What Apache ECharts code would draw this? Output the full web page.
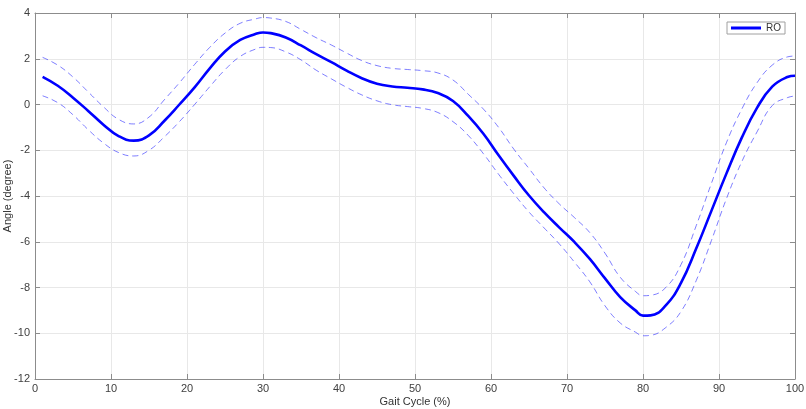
<!DOCTYPE html>
<html>
<head>
<meta charset="utf-8">
<script src="https://cdn.jsdelivr.net/npm/echarts@6/dist/echarts.min.js"></script>
<style>
html,body{margin:0;padding:0;background:#fff;}
#chart{width:806px;height:409px;}
</style>
</head>
<body>
<div id="chart"></div>
<script>
var gaitX = [1,3,5,7,9,11,13,15,17,19,21,23,25,27,29,30,31,33,35,37,39,41,43,45,47,49,51,53,55,57,59,61,63,65,67,69,71,73,75,77,79,80,81,83,85,87,89,91,93,95,97,99,100];
var meanRO = [1.21,0.82,0.30,-0.28,-0.88,-1.38,-1.58,-1.35,-0.72,0.0,0.75,1.58,2.32,2.82,3.08,3.15,3.12,2.93,2.58,2.2,1.85,1.48,1.15,0.91,0.79,0.73,0.66,0.50,0.15,-0.5,-1.28,-2.22,-3.12,-3.98,-4.72,-5.38,-6.02,-6.75,-7.6,-8.42,-9.0,-9.23,-9.22,-8.78,-7.8,-6.3,-4.65,-3.0,-1.45,-0.15,0.78,1.2,1.26];
var upperRO = [2.06,1.72,1.2,0.55,-0.1,-0.65,-0.85,-0.55,0.2,0.95,1.75,2.5,3.12,3.55,3.74,3.8,3.78,3.63,3.28,2.92,2.6,2.25,1.92,1.7,1.58,1.53,1.48,1.38,1.07,0.45,-0.2,-1.0,-1.95,-2.8,-3.65,-4.35,-4.95,-5.6,-6.5,-7.55,-8.17,-8.36,-8.34,-8.0,-7.0,-5.3,-3.45,-1.65,-0.2,0.95,1.72,2.08,2.12];
var lowerRO = [0.38,0.08,-0.45,-1.1,-1.68,-2.1,-2.25,-2.0,-1.42,-0.75,0.0,0.78,1.52,2.1,2.42,2.5,2.49,2.3,1.95,1.5,1.12,0.75,0.42,0.16,-0.01,-0.09,-0.17,-0.35,-0.75,-1.35,-2.15,-3.05,-3.9,-4.7,-5.4,-6.1,-6.9,-7.75,-8.8,-9.55,-9.95,-10.11,-10.09,-9.75,-9.05,-7.7,-5.95,-4.1,-2.5,-1.2,-0.05,0.3,0.37];
var legendName = 'RO';
var xName = 'Gait Cycle (%)';
var yName = 'Angle (degree)';

function pairs(ys){ return gaitX.map(function(x,i){ return [x, ys[i]]; }); }

var axisLineStyle = {color:'#8c8c8c', width:1};
var fontFam = 'Liberation Sans, Arial, sans-serif';
var labelStyle = {color:'#404040', fontSize:11, fontFamily:fontFam};

var chart = echarts.init(document.getElementById('chart'));
chart.setOption({
  animation:false,
  grid:{left:35, right:11, top:13, bottom:30, containLabel:false, outerBoundsMode:'none'},
  legend:{
    data:[legendName], right:21, top:22,
    backgroundColor:'#fff', borderColor:'#a0a0a0', borderWidth:1, borderRadius:0,
    padding:[1,4,1,4], itemWidth:30, itemHeight:3, itemGap:4,
    textStyle:{color:'#333', fontSize:10, fontFamily:fontFam},
    icon:'rect'
  },
  xAxis:[{
    type:'value', min:0, max:100, interval:10,
    name:xName, nameLocation:'middle', nameGap:17, nameMoveOverlap:false,
    nameTextStyle:{color:'#333', fontSize:11, fontFamily:fontFam},
    axisLine:{show:true, onZero:false, lineStyle:axisLineStyle},
    axisTick:{show:true, inside:true, length:5, lineStyle:axisLineStyle},
    axisLabel:Object.assign({margin:4}, labelStyle),
    splitLine:{show:true, lineStyle:{color:'#e8e8e8', width:1}}
  },{
    type:'value', min:0, max:100, interval:10, position:'top',
    axisLine:{show:true, onZero:false, lineStyle:axisLineStyle},
    axisTick:{show:true, inside:true, length:5, lineStyle:axisLineStyle},
    axisLabel:{show:false}, splitLine:{show:false}
  }],
  yAxis:[{
    type:'value', min:-12, max:4, interval:2,
    name:yName, nameLocation:'middle', nameGap:22, nameMoveOverlap:false,
    nameTextStyle:{color:'#333', fontSize:11, fontFamily:fontFam},
    axisLine:{show:true, onZero:false, lineStyle:axisLineStyle},
    axisTick:{show:true, inside:true, length:5, lineStyle:axisLineStyle},
    axisLabel:Object.assign({margin:5}, labelStyle),
    splitLine:{show:true, lineStyle:{color:'#e8e8e8', width:1}}
  },{
    type:'value', min:-12, max:4, interval:2, position:'right',
    axisLine:{show:true, onZero:false, lineStyle:axisLineStyle},
    axisTick:{show:true, inside:true, length:5, lineStyle:axisLineStyle},
    axisLabel:{show:false}, splitLine:{show:false}
  }],
  series:[
    {name:'upper', type:'line', data:pairs(upperRO), smooth:0.45, symbol:'none',
     lineStyle:{color:'rgba(40,40,255,0.6)', width:1, type:[6,4]}},
    {name:'lower', type:'line', data:pairs(lowerRO), smooth:0.45, symbol:'none',
     lineStyle:{color:'rgba(40,40,255,0.6)', width:1, type:[6,4]}},
    {name:legendName, type:'line', data:pairs(meanRO), smooth:0.45, symbol:'none',
     itemStyle:{color:'#0000ff'},
     lineStyle:{color:'#0000ff', width:2.6}}
  ]
});
</script>
</body>
</html>
